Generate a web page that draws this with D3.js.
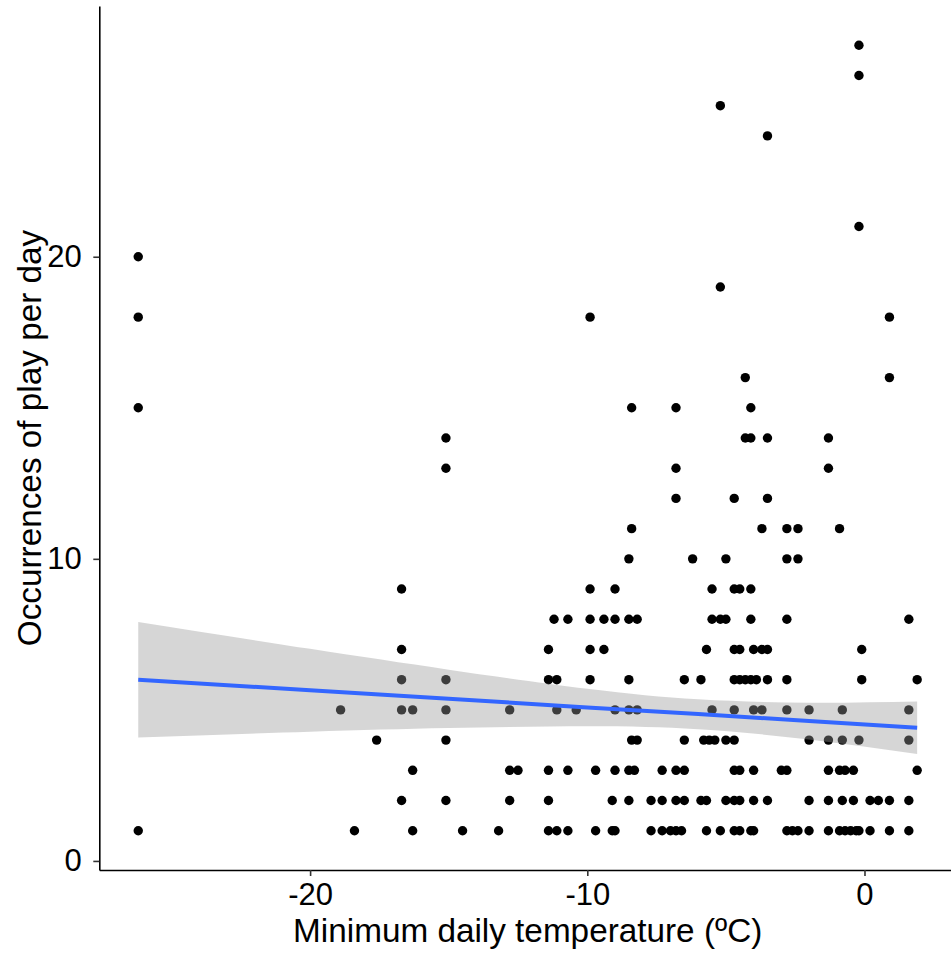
<!DOCTYPE html>
<html>
<head>
<meta charset="utf-8">
<script src="https://cdn.jsdelivr.net/npm/d3@7"></script>
<style>
  body { margin: 0; background: #fff; }
  svg text { font-family: Arial, "Liberation Sans", sans-serif; }
</style>
</head>
<body>
<div id="chart"></div>
<script>

// observations: minimum daily temperature (C) and plays per day, read row by row
var minTemp = [
  -0.2, -0.2, -5.2, -3.5, -0.2, -26.2, -5.2, -26.2, -9.9, 0.9, -4.3, 0.9,
  -26.2, -8.4, -6.8, -4.1, -15.1, -4.3, -4.1, -3.5, -1.3, -15.1, -6.8, -1.3,
  -6.8, -4.7, -3.5, -8.4, -3.7, -2.8, -2.4, -0.9, -8.5, -6.2, -5.0, -2.8, -2.4,
  // 9
  -16.7, -9.9, -9.0, -5.5, -4.7, -4.5, -4.1,
  // 8
  -11.2, -10.7, -9.9, -9.4, -9.0, -8.5, -8.2, -5.5, -5.2, -5.0, -4.1, -2.8, 1.6,
  // 7
  -16.7, -11.4, -9.9, -9.4, -5.7, -4.7, -4.5, -4.0, -3.7, -3.5, -0.1,
  // 6
  -16.7, -15.1, -11.4, -11.1, -9.9, -8.5, -6.5, -5.9, -4.7, -4.5, -4.3, -4.1,
  -3.9, -3.5, -2.8, -0.1, 1.9,
  // 5
  -18.9, -16.7, -16.3, -15.1, -12.8, -11.1, -10.4, -9.0, -8.5, -8.2, -5.5,
  -4.7, -4.0, -3.7, -2.8, -2.0, -0.8, 1.6,
  // 4
  -17.6, -15.1, -8.4, -8.2, -6.5, -5.8, -5.6, -5.4, -5.0, -4.7, -2.0, -1.3,
  -0.8, -0.2, 1.6,
  // 3
  -16.3, -12.8, -12.5, -11.4, -10.7, -9.7, -9.0, -8.5, -8.3, -7.3, -6.8, -6.5,
  -4.7, -4.5, -4.0, -3.0, -2.8, -1.3, -0.9, -0.7, -0.4, 1.9,
  // 2
  -16.7, -15.1, -12.8, -11.4, -9.1, -8.5, -7.7, -7.3, -6.8, -6.5, -5.9, -5.7,
  -5.0, -4.7, -4.5, -4.0, -3.5, -2.0, -1.3, -0.8, -0.4, 0.2, 0.5, 0.9, 1.6,
  // 1
  -26.2, -18.4, -16.3, -14.5, -13.2, -11.4, -11.1, -10.7, -9.7, -9.1, -9.0,
  -7.7, -7.3, -7.0, -6.8, -6.6, -5.7, -5.2, -4.7, -4.5, -4.1, -4.0, -2.8,
  -2.6, -2.4, -2.0, -1.3, -0.9, -0.7, -0.5, -0.3, -0.2, 0.2, 0.9, 1.6
];

var playCount = [
  27, 26, 25, 24, 21, 20, 19, 18, 18, 18, 16, 16,
  15, 15, 15, 15, 14, 14, 14, 14, 14, 13, 13, 13,
  12, 12, 12, 11, 11, 11, 11, 11, 10, 10, 10, 10, 10,
  9, 9, 9, 9, 9, 9, 9,
  8, 8, 8, 8, 8, 8, 8, 8, 8, 8, 8, 8, 8,
  7, 7, 7, 7, 7, 7, 7, 7, 7, 7, 7,
  6, 6, 6, 6, 6, 6, 6, 6, 6, 6, 6, 6, 6, 6, 6, 6, 6,
  5, 5, 5, 5, 5, 5, 5, 5, 5, 5, 5, 5, 5, 5, 5, 5, 5, 5,
  4, 4, 4, 4, 4, 4, 4, 4, 4, 4, 4, 4, 4, 4, 4,
  3, 3, 3, 3, 3, 3, 3, 3, 3, 3, 3, 3, 3, 3, 3, 3, 3, 3, 3, 3, 3, 3,
  2, 2, 2, 2, 2, 2, 2, 2, 2, 2, 2, 2, 2, 2, 2, 2, 2, 2, 2, 2, 2, 2, 2, 2, 2,
  1, 1, 1, 1, 1, 1, 1, 1, 1, 1, 1, 1, 1, 1, 1, 1, 1, 1, 1, 1, 1, 1, 1, 1,
  1, 1, 1, 1, 1, 1, 1, 1, 1, 1, 1
];

// linear smoother (geom_smooth, lm): fit and 95% band
var smoothTemp  = [-26.2, -20, -15, -10, -6, -2, 1.9];
var smoothFit   = [6.00, 5.65, 5.37, 5.08, 4.86, 4.63, 4.41];
var smoothLower = [4.09, 4.28, 4.40, 4.46, 4.36, 4.02, 3.54];
var smoothUpper = [7.91, 7.02, 6.33, 5.70, 5.35, 5.24, 5.28];

var xTicks = [-20, -10, 0];
var yTicks = [0, 10, 20];

var xLabel = "Minimum daily temperature (ºC)";
var yLabel = "Occurrences of play per day";

/////////////////////////////////////////////////////////////////////

function expand(ext) {
  var pad = (ext[1]-ext[0])*0.05;
  return [ext[0]-pad, ext[1]+pad];
}

function make_scatter() {
  var W = 951, H = 957;
  var panel = {left: 99.3, right: 956.1, top: 6, bottom: 870};

  var svg = d3.select("#chart").append("svg")
      .attr("width", W)
      .attr("height", H);

  var x = d3.scaleLinear()
      .domain(expand(d3.extent(minTemp)))
      .range([panel.left, panel.right]);

  var y = d3.scaleLinear()
      .domain(expand(d3.extent(playCount)))
      .range([panel.bottom, panel.top]);

  var pts = minTemp.map(function(t, i) { return {t: t, n: playCount[i]}; });

  // Points
  svg.append("g").selectAll("circle")
    .data(pts)
    .enter().append("circle")
      .attr("cx", function(d) { return x(d.t); })
      .attr("cy", function(d) { return y(d.n); })
      .attr("r", 4.7)
      .attr("fill", "#000");

  // Smoother band, drawn over the points as ggplot does
  var sm = smoothTemp.map(function(t, i) {
    return {t: t, fit: smoothFit[i], lo: smoothLower[i], hi: smoothUpper[i]};
  });

  var band = d3.area()
      .curve(d3.curveNatural)
      .x(function(d) { return x(d.t); })
      .y0(function(d) { return y(d.lo); })
      .y1(function(d) { return y(d.hi); });

  svg.append("path")
    .datum(sm)
    .attr("d", band)
    .attr("fill", "#999999")
    .attr("fill-opacity", 0.4);

  var line = d3.line()
      .x(function(d) { return x(d.t); })
      .y(function(d) { return y(d.fit); });

  svg.append("path")
    .datum(sm)
    .attr("d", line)
    .attr("fill", "none")
    .attr("stroke", "#3366FF")
    .attr("stroke-width", 4);

  // Axes
  var xAxis = d3.axisBottom(x)
      .tickValues(xTicks)
      .tickFormat(function(d) { return String(d); })
      .tickSize(6)
      .tickSizeOuter(0)
      .tickPadding(6.5);

  var yAxis = d3.axisLeft(y)
      .tickValues(yTicks)
      .tickFormat(function(d) { return String(d); })
      .tickSize(6)
      .tickSizeOuter(0)
      .tickPadding(11.5);

  var gx = svg.append("g")
      .attr("transform", "translate(0," + panel.bottom + ")")
      .call(xAxis);

  var gy = svg.append("g")
      .attr("transform", "translate(" + panel.left + ",0)")
      .call(yAxis);

  [gx, gy].forEach(function(g) {
    g.select(".domain").attr("stroke", "#000").attr("stroke-width", 1.6);
    g.selectAll(".tick line").attr("stroke", "#333").attr("stroke-width", 1.6);
    g.selectAll(".tick text")
      .attr("fill", "#000")
      .style("font-size", "31px")
      .style("font-family", "Arial, 'Liberation Sans', sans-serif");
  });

  // Axis titles
  svg.append("text")
    .attr("x", (panel.left + panel.right)/2)
    .attr("y", 942)
    .attr("text-anchor", "middle")
    .style("font-size", "33.3px")
    .text(xLabel);

  svg.append("text")
    .attr("transform", "translate(41," + (panel.top + panel.bottom)/2 + ") rotate(-90)")
    .attr("text-anchor", "middle")
    .style("font-size", "33.3px")
    .text(yLabel);
}

make_scatter();

</script>
</body>
</html>
